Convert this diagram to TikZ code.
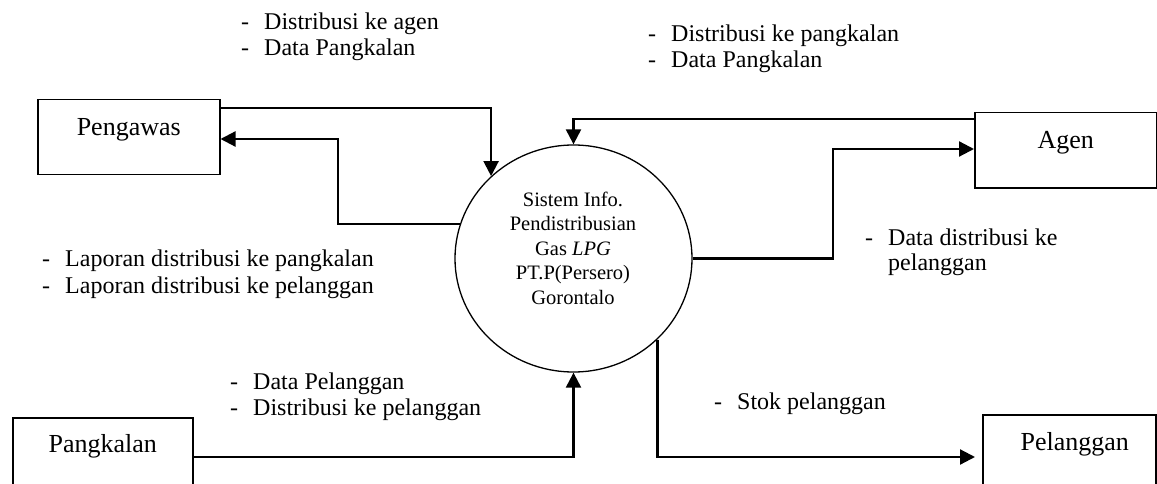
\documentclass[tikz,border=0pt]{standalone}
\usepackage{fontspec}
\setmainfont{Liberation Serif}
\usetikzlibrary{arrows.meta,shapes.geometric}
\newcommand{\lbdash}{\makebox[23pt][l]{-}}
\begin{document}
\begin{tikzpicture}[x=1pt,y=-1pt,
  entity/.style={draw,line width=1.5pt,rectangle,inner sep=0pt,minimum width=#1,
    text height=36pt,text depth=39pt,font=\fontsize{26}{30}\selectfont},
  conn/.style={line width=2.2pt},
  arr/.style={-{Triangle[length=15pt,width=15pt]}},
  lbl/.style={anchor=base west,inner sep=0pt,font=\fontsize{24}{26}\selectfont}]
\useasboundingbox (0,0) rectangle (1157,484);
\fill[white] (0,0) rectangle (1157,484);
\clip (0,0) rectangle (1157,484);

% entities
\node[entity=182pt,anchor=north west] (pengawas) at (37,99) {Pengawas};
\node[entity=182pt,anchor=north west] (agen) at (974,112) {Agen};
\node[entity=180pt,anchor=north west,text height=35pt,text depth=40pt] (pangkalan) at (12,417) {Pangkalan};
\node[entity=173pt,anchor=north west] (pelanggan) at (982,414) {\hspace*{11pt}Pelanggan};

% process
\node[draw,ellipse,line width=1.3pt,minimum width=237pt,minimum height=227pt,inner sep=0pt] (sys) at (573.5,258.5) {};
\node[anchor=base,inner sep=0pt,font=\fontsize{20.5}{24.5}\selectfont] (systext) at (573,206)
  {\begin{tabular}[t]{@{}c@{}}Sistem Info.\\Pendistribusian\\Gas \textit{LPG}\\PT.P(Persero)\\Gorontalo\end{tabular}};

% connectors
\draw[conn,arr] (pengawas.east |- 0,108) -| (sys.135.35);
\draw[conn,arr] (sys.163.5) -| (338,139) -- (pengawas.east |- 0,139);
\draw[conn,arr] (agen.west |- 0,119) -| (sys.north);
\draw[conn,arr] (sys.east) -| (833,149) -- (agen.west |- 0,149);
\draw[conn,arr] (pangkalan.east |- 0,457) -| (sys.south);
\draw[conn,arr,shorten >=7pt] (sys.316.05) |- (pelanggan.west |- 0,457);

% labels
\node[lbl] (l1) at (241,30) {\begin{tabular}[t]{@{}l@{}}\lbdash Distribusi ke agen\\\lbdash Data Pangkalan\end{tabular}};
\node[lbl] (l2) at (648,42) {\begin{tabular}[t]{@{}l@{}}\lbdash Distribusi ke pangkalan\\\lbdash Data Pangkalan\end{tabular}};
\node[lbl,font=\fontsize{24}{27}\selectfont] (l3) at (42,266) {\begin{tabular}[t]{@{}l@{}}\lbdash Laporan distribusi ke pangkalan\\\lbdash Laporan distribusi ke pelanggan\end{tabular}};
\node[lbl,font=\fontsize{24}{25}\selectfont] (l4) at (865,245) {\begin{tabular}[t]{@{}l@{}}\lbdash Data distribusi ke\\\hspace*{23pt}pelanggan\end{tabular}};
\node[lbl] (l5) at (230,389) {\begin{tabular}[t]{@{}l@{}}\lbdash Data Pelanggan\\\lbdash Distribusi ke pelanggan\end{tabular}};
\node[lbl] (l6) at (714,409) {\lbdash Stok pelanggan};
\end{tikzpicture}
\end{document}
